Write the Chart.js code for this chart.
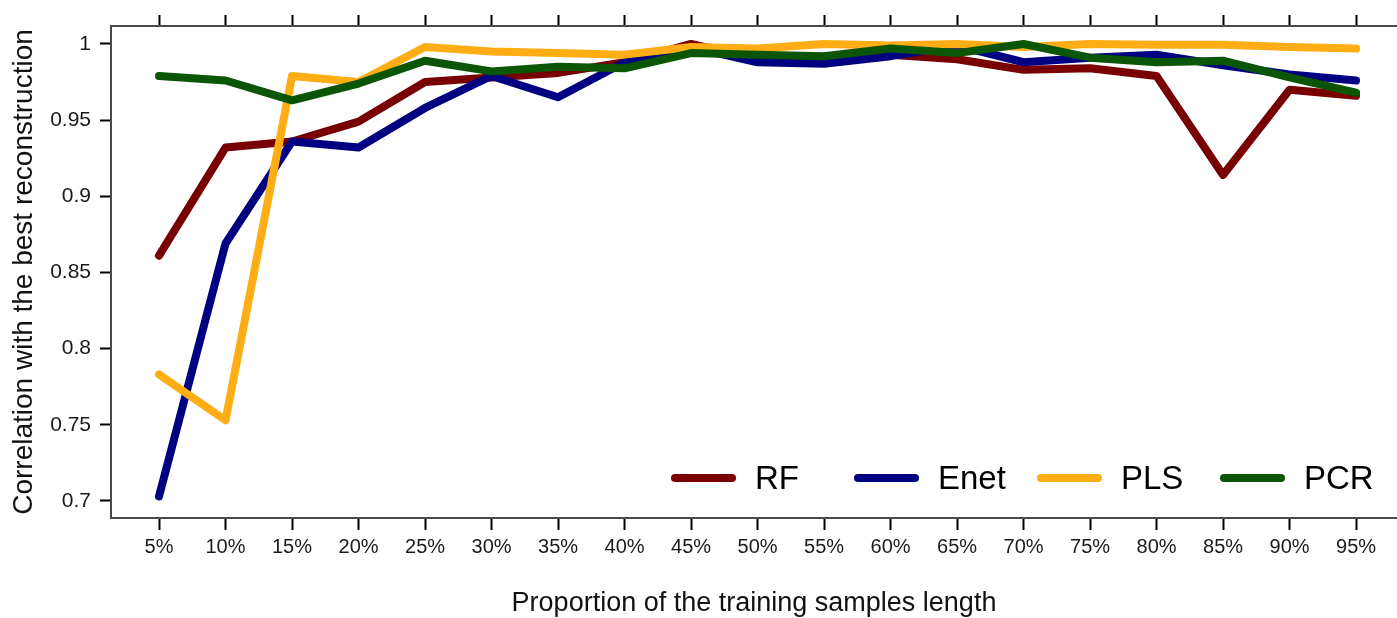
<!DOCTYPE html>
<html>
<head>
<meta charset="utf-8">
<script src="https://cdn.jsdelivr.net/npm/chart.js@4.4.1/dist/chart.umd.min.js"></script>
<style>
  html, body { margin: 0; padding: 0; background: #fff; }
  #wrap { width: 1397px; height: 618px; }
</style>
</head>
<body>
<div id="wrap"><canvas id="chart"></canvas></div>
<script>
// proportion of the training samples length (%)
const proportions = [5, 10, 15, 20, 25, 30, 35, 40, 45, 50, 55, 60, 65, 70, 75, 80, 85, 90, 95];

const rf   = [0.861, 0.932, 0.936, 0.949, 0.975, 0.978, 0.981, 0.988, 1.000, 0.990, 0.990, 0.993, 0.990, 0.983, 0.984, 0.979, 0.914, 0.970, 0.966];
const enet = [0.703, 0.869, 0.936, 0.932, 0.958, 0.979, 0.965, 0.988, 0.998, 0.988, 0.987, 0.992, 0.999, 0.988, 0.991, 0.993, 0.986, 0.980, 0.976];
const pls  = [0.783, 0.753, 0.979, 0.975, 0.998, 0.995, 0.994, 0.993, 0.998, 0.997, 1.000, 0.999, 1.000, 0.998, 1.000, 0.9995, 0.9995, 0.998, 0.997];
const pcr  = [0.979, 0.976, 0.963, 0.974, 0.989, 0.982, 0.985, 0.984, 0.994, 0.993, 0.992, 0.997, 0.994, 1.000, 0.991, 0.988, 0.989, 0.978, 0.968];

const seriesNames  = ['RF', 'Enet', 'PLS', 'PCR'];
const seriesColors = ['#780000', '#000080', '#ffad14', '#0b5506'];

const yTicks = [0.7, 0.75, 0.8, 0.85, 0.9, 0.95, 1];

const FONT = "'Liberation Sans', Arial, Helvetica, sans-serif";

// R-style horizontal legend sitting in the lower right of the plot
const rLegend = {
    id: 'rLegend',
    afterDatasetsDraw(chart) {
        const ctx = chart.ctx;
        const area = chart.chartArea;
        const x0 = area.right - 725;
        const y = area.bottom - 40;
        const colW = 183;
        ctx.save();
        ctx.lineWidth = 8;
        ctx.lineCap = 'round';
        ctx.font = '33px ' + FONT;
        ctx.textBaseline = 'middle';
        ctx.fillStyle = '#000';
        seriesNames.forEach((name, i) => {
            const x = x0 + i * colW;
            ctx.strokeStyle = seriesColors[i];
            ctx.beginPath();
            ctx.moveTo(x + 3, y);
            ctx.lineTo(x + 60, y);
            ctx.stroke();
            ctx.fillText(name, x + 83, y + 2);
        });
        ctx.restore();
    }
};

const allData = [rf, enet, pls, pcr];

const xMin = 1.39, xMax = 98.08;

// keep the plot box flush with the canvas edges
const noPad = s => { s.paddingLeft = 0; s.paddingRight = 0; };

new Chart(document.getElementById('chart'), {
    type: 'line',
    data: {
        labels: proportions,
        datasets: allData.map((d, i) => ({
            label: seriesNames[i],
            data: d,
            borderColor: seriesColors[i],
            backgroundColor: seriesColors[i],
            borderWidth: 8,
            borderCapStyle: 'round',
            borderJoinStyle: 'round',
            pointRadius: 0,
            tension: 0,
            order: 3 - i
        }))
    },
    options: {
        responsive: true,
        maintainAspectRatio: false,
        animation: false,
        layout: { padding: 0 },
        plugins: {
            legend: { display: false },
            tooltip: { enabled: false }
        },
        scales: {
            x: {
                type: 'linear',
                position: 'bottom',
                min: xMin,
                max: xMax,
                afterBuildTicks: s => { s.ticks = proportions.map(v => ({ value: v })); },
                afterFit: s => { s.height = 100; noPad(s); },
                grid: { drawOnChartArea: false, tickLength: 12, tickWidth: 2, tickColor: '#000' },
                border: { display: true, color: '#4a4a4a', width: 2 },
                ticks: {
                    padding: 5,
                    color: '#1a1a1a',
                    font: { family: FONT, size: 20, lineHeight: 1.2 },
                    maxRotation: 0,
                    autoSkip: false,
                    callback: v => v + '%'
                },
                title: {
                    display: true,
                    text: 'Proportion of the training samples length',
                    color: '#111',
                    font: { family: FONT, size: 27, lineHeight: 1 },
                    padding: { top: 0, bottom: 1 }
                }
            },
            xTop: {
                type: 'linear',
                position: 'top',
                min: xMin,
                max: xMax,
                afterBuildTicks: s => { s.ticks = proportions.map(v => ({ value: v })); },
                afterFit: s => { s.height = 26; noPad(s); },
                grid: { drawOnChartArea: false, tickLength: 11, tickWidth: 2, tickColor: '#000' },
                border: { display: true, color: '#4a4a4a', width: 2 },
                ticks: { display: false }
            },
            y: {
                type: 'linear',
                position: 'left',
                min: 0.6888,
                max: 1.0118,
                afterBuildTicks: s => { s.ticks = yTicks.map(v => ({ value: v })); },
                afterFit: s => { s.width = 111; },
                grid: { drawOnChartArea: false, tickLength: 11, tickWidth: 2, tickColor: '#000' },
                border: { display: true, color: '#4a4a4a', width: 2 },
                ticks: {
                    padding: 9,
                    color: '#1a1a1a',
                    font: { family: FONT, size: 21 },
                    callback: v => String(Number(v.toFixed(2)))
                },
                title: {
                    display: true,
                    text: 'Correlation with the best reconstruction',
                    color: '#111',
                    font: { family: FONT, size: 28, lineHeight: 1 },
                    padding: { top: 10, bottom: 0 }
                }
            }
        }
    },
    plugins: [rLegend]
});
</script>
</body>
</html>
